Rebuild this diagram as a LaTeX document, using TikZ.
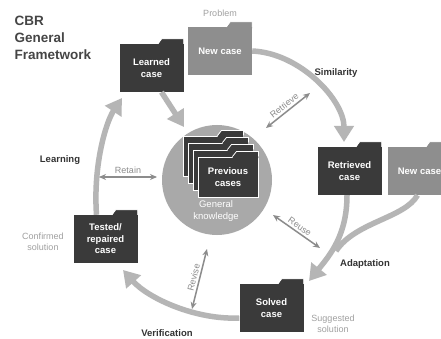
\documentclass[tikz,border=0pt]{standalone}
\usepackage{fontspec}
\setmainfont{Liberation Sans}
\usepackage{tikz}
\usetikzlibrary{shapes,arrows.meta,backgrounds}
\definecolor{casedark}{HTML}{3A3A3A}
\definecolor{casegray}{HTML}{8E8E8E}
\definecolor{knowfill}{HTML}{A9A9A9}
\definecolor{flowgray}{HTML}{B5B5B5}
\definecolor{linkgray}{HTML}{8C8C8C}
\definecolor{notegray}{HTML}{A0A0A0}
\definecolor{titlegray}{HTML}{454545}
\tikzstyle{darkcase}=[rectangle, fill=casedark, text=white, minimum width=64pt, minimum height=48pt, inner sep=0pt, align=center, font=\bfseries\fontsize{9.5}{11.5}\selectfont]
\tikzstyle{graycase}=[darkcase, fill=casegray]
\tikzstyle{stackcase}=[darkcase, draw=white, line width=0.8pt, minimum width=60pt, minimum height=40pt]
\tikzstyle{know}=[circle, fill=knowfill, minimum size=110pt, inner sep=0pt]
\tikzstyle{knowtext}=[text=white, align=center, font=\fontsize{9.5}{12}\selectfont]
\tikzstyle{phase}=[text=black!80, font=\bfseries\fontsize{9.5}{11}\selectfont]
\tikzstyle{note}=[text=notegray, align=center, font=\fontsize{9}{11}\selectfont]
\tikzstyle{flow}=[draw=flowgray, line width=5.5pt, -{Triangle[width=19pt,length=16pt]}]
\tikzstyle{flowline}=[draw=flowgray, line width=5.5pt]
\tikzstyle{link}=[draw=linkgray, line width=1.5pt, {Stealth[length=7pt,width=6pt]}-{Stealth[length=7pt,width=6pt]}]
\tikzstyle{linklabel}=[text=linkgray, inner sep=2pt, font=\fontsize{9}{11}\selectfont]
% tab on the top right of a folder
\newcommand{\casetab}[2]{%
\fill[#2] ([yshift=-1.5pt]#1.north east) -- ++(0,-6.5) -- ++(-22,0) -- ++(-4,6.5) -- cycle;
\draw[white, line width=0.8pt] (#1.north east) -- ++(0,-5) -- ++(-22,0) -- ++(-4,5);}

\begin{document}
\begin{tikzpicture}[x=1pt,y=-1pt]
\clip (0,0) rectangle (441,339);
\fill[white] (0,0) rectangle (441,339);

%Title
\node[anchor=north west, align=left, text=titlegray, font=\bfseries\fontsize{13.5}{17}\selectfont] (title) at (11,13){CBR\\General\\Frametwork};

%Knowledge base
\node[know] (kb) at (217,180){};
\foreach \i/\t in {0/,1/,2/,3/{Previous\\cases}}{
\node[stackcase] (prev\i) at (213+5*\i,156+7*\i){\t};
\casetab{prev\i}{casedark}
}
\node[knowtext] (gk) at (216,211){General\\knowledge};

%Cases
\node[graycase] (newtop) at (220,51){New case};
\casetab{newtop}{casegray}
\node[darkcase] (learned) at (151.5,68){Learned\\case};
\casetab{learned}{casedark}
\node[darkcase] (retrieved) at (349.5,171){Retrieved\\case};
\casetab{retrieved}{casedark}
\node[graycase] (newright) at (419.5,171){New case};
\casetab{newright}{casegray}
\node[darkcase] (solved) at (271.5,308){Solved\\case};
\casetab{solved}{casedark}
\node[darkcase] (tested) at (105.5,239){Tested/\\repaired\\case};
\casetab{tested}{casedark}

%Labels
\node[note] (problem) at (220,13){Problem};
\node[phase] (similarity) at (336,73){Similarity};
\node[phase] (adaptation) at (365,264){Adaptation};
\node[phase] (verification) at (167,333){Verification};
\node[phase] (learning) at (60,160){Learning};
\node[note] (confirmed) at (43,242){Confirmed\\solution};
\node[note] (suggested) at (333,324){Suggested\\solution};

%Cycle
\coordinate (simtip) at (344,142);
\coordinate (adtip) at (309,281);
\coordinate (admerge) at (336,251);
\coordinate (vertip) at (123,270);
\coordinate (learntip) at (122,98);
\coordinate (kbtip) at (184,127);
\draw[flow] (newtop.east) .. controls (300,53) and (344,100) .. (simtip);
\draw[flowline] ([xshift=-2pt]newright.south) .. controls (405,218) and (355,222) .. (admerge);
\draw[flow] ([xshift=-2.5pt]retrieved.south) .. controls (347,235) and (330,255) .. (adtip);
\draw[flow] ([yshift=-10pt]solved.west) .. controls (195,320) and (148,298) .. (vertip);
\draw[flow] ([xshift=-9pt]tested.north) .. controls (93,165) and (106,122) .. (learntip);
\draw[flow] ([xshift=10pt]learned.south) -- (kbtip);

%Steps
\coordinate (retr1) at (266,128);
\coordinate (retr2) at (310,93);
\coordinate (reta1) at (99,177);
\coordinate (reta2) at (157,177);
\coordinate (reus1) at (273,215);
\coordinate (reus2) at (320,248);
\coordinate (revi1) at (192,309);
\coordinate (revi2) at (207,249);
\draw[link] (retr1) -- node[linklabel, sloped, above]{Retrieve} (retr2);
\draw[link] (reta1) -- node[linklabel, above=1pt]{Retain} (reta2);
\draw[link] (reus1) -- node[linklabel, sloped, above]{Reuse} (reus2);
\draw[link] (revi1) -- node[linklabel, sloped, above]{Revise} (revi2);

\end{tikzpicture}
\end{document}
